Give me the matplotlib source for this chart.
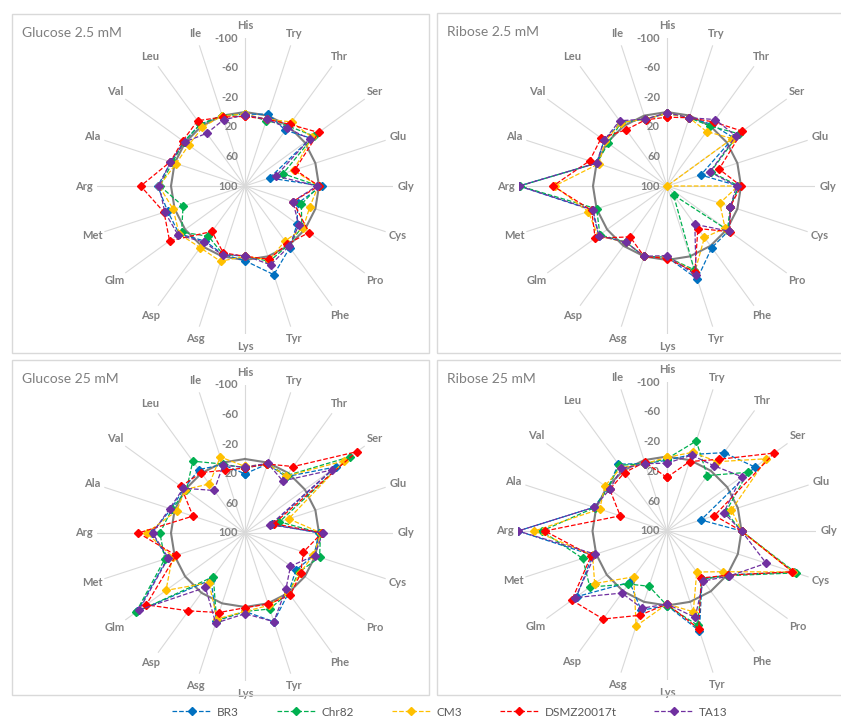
import numpy as np
import matplotlib
matplotlib.use("Agg")
import matplotlib.pyplot as plt
from matplotlib.patches import Rectangle
from matplotlib.lines import Line2D

plt.rcParams['font.family'] = ['Lato', 'DejaVu Sans']

amino = ['His', 'Try', 'Thr', 'Ser', 'Glu', 'Gly', 'Cys', 'Pro', 'Phe', 'Tyr',
         'Lys', 'Asg', 'Asp', 'Glm', 'Met', 'Arg', 'Ala', 'Val', 'Leu', 'Ile']
strains = ['BR3', 'Chr82', 'CM3', 'DSMZ20017t', 'TA13']
colors = ['#0070C0', '#00B050', '#FFC000', '#FF0000', '#7030A0']
r_ticks = [-100, -60, -20, 20, 60, 100]
baseline = [0] * 20

# Glucose 2.5 mM
glc_low_BR3 = [3, -2, 7, -10, 65, -4, 25, 13, -3, -26, -1, 3, 8, -10, -10, -18, -5, -2, -3, 0]
glc_low_Chr82 = [3, 7, 0, -15, 46, 0, 20, 5, 1, -7, 5, 3, 16, -6, 12, -15, -3, -2, -3, 0]
glc_low_CM3 = [3, 5, -7, -12, 31, 1, 8, 3, 8, -5, 5, -7, -3, -10, -2, -16, 2, 6, 2, 0]
glc_low_DSMZ = [6, 5, -3, -23, 29, 0, 32, -7, 3, -4, 5, 5, 24, -26, -15, -41, -6, -4, -9, 2]
glc_low_TA13 = [4, 5, 3, -8, 56, 3, 32, 10, -1, -12, 6, 2, 6, -12, -14, -16, -6, -1, 12, 6]

# Ribose 2.5 mM
rib_low_BR3 = [2, 3, -3, -11, 52, 3, 10, -3, -3, -32, 4, 0, 6, -14, -6, -100, 0, -5, -6, 5]
rib_low_Chr82 = [2, 3, 0, -20, 38, 3, 10, -1, 85, -19, 4, 0, 6, -12, 0, -99, 0, 2, -6, 5]
rib_low_CM3 = [2, 3, 9, -9, 100, 4, 25, 3, 14, -22, 4, 0, 6, -15, -12, -52, 3, -3, -6, 5]
rib_low_DSMZ = [7, 3, -7, -26, 26, 0, 10, -5, 29, -22, 2, 0, 15, -20, -7, -54, -10, -10, 6, 6]
rib_low_TA13 = [1, 3, -11, -15, 39, 6, 10, -4, 36, -27, 6, 0, 6, -14, -5, -100, 0, -5, -9, 5]

# Glucose 25 mM
glc_high_BR3 = [20, 2, 6, -52, 62, 0, 2, 15, 0, -26, -6, -25, 22, -80, -10, -26, -5, -2, -6, 3]
glc_high_Chr82 = [12, 2, 4, -75, 51, -2, -6, 10, 0, -8, -6, -24, 27, -82, -14, -15, -4, 2, -20, 2]
glc_high_CM3 = [10, 2, 5, -66, 38, -3, 3, 8, 0, -3, -6, -22, 17, -32, -3, -33, 3, 0, 18, -8]
glc_high_DSMZ = [12, 2, -11, -87, 59, -4, 17, 7, -4, -1, -1, -13, -30, -65, 2, -44, 26, -7, -1, 11]
glc_high_TA13 = [11, 1, 13, -45, 64, -5, 1, 24, 6, -26, -9, -28, 9, -77, -9, -25, -7, -3, 29, 4]

# Ribose 25 mM
rib_high_BR3 = [5, -8, -30, -46, 52, 0, -79, 0, 20, -41, 0, -12, 15, -50, -5, -100, -3, 2, -11, 5]
rib_high_Chr82 = [3, -27, 8, -34, 17, 0, -82, -2, 20, -33, 0, 22, 12, -28, -19, -68, -2, 2, -9, 5]
rib_high_CM3 = [1, -11, -15, -65, 9, 0, -78, 7, 32, -14, 2, -34, 24, -20, -5, -78, 5, -3, -5, 5]
rib_high_DSMZ = [28, 2, -19, -78, 33, 0, -77, -1, 22, -38, 2, -19, -46, -58, -7, -64, 34, 5, 3, 3]
rib_high_TA13 = [9, -7, -8, -24, 20, 0, -40, -3, 17, -22, 2, -9, -3, -52, -1, -100, -3, 5, -4, 5]

W, H = 841, 720
fig = plt.figure(figsize=(W / 100, H / 100), dpi=100)

panels = [
    ('Glucose 2.5 mM', (12, 14, 429, 353), (245, 186), 148,
     [glc_low_BR3, glc_low_Chr82, glc_low_CM3, glc_low_DSMZ, glc_low_TA13]),
    ('Ribose 2.5 mM', (437, 13, 846, 353), (667, 186), 148,
     [rib_low_BR3, rib_low_Chr82, rib_low_CM3, rib_low_DSMZ, rib_low_TA13]),
    ('Glucose 25 mM', (12, 360, 429, 695), (245, 533), 148,
     [glc_high_BR3, glc_high_Chr82, glc_high_CM3, glc_high_DSMZ, glc_high_TA13]),
    ('Ribose 25 mM', (437, 360, 846, 695), (667, 531), 149,
     [rib_high_BR3, rib_high_Chr82, rib_high_CM3, rib_high_DSMZ, rib_high_TA13]),
]

theta = np.deg2rad(np.arange(len(amino)) * 360 / len(amino))
theta_closed = np.append(theta, theta[0])

for title, (x0, y0, x1, y1), (cx, cy), rad, series in panels:
    fig.add_artist(Rectangle((x0 / W, 1 - y1 / H), (x1 - x0) / W, (y1 - y0) / H,
                             transform=fig.transFigure, fill=False,
                             ec='#D9D9D9', lw=1.0))
    fig.text((x0 + 10) / W, 1 - (y0 + 19) / H, title, ha='left', va='center',
             fontsize=10, color='#7F7F7F')

    ax = fig.add_axes([(cx - rad) / W, 1 - (cy + rad) / H, 2 * rad / W, 2 * rad / H],
                      projection='polar')
    ax.set_theta_zero_location('N')
    ax.set_theta_direction(-1)
    ax.set_rlim(100, -100)
    ax.patch.set_alpha(0)
    ax.spines['polar'].set_visible(False)
    ax.set_xticks(theta)
    ax.set_xticklabels([])
    ax.set_yticks(r_ticks)
    ax.set_yticklabels([])
    ax.yaxis.grid(False)
    ax.xaxis.grid(True, color='#D9D9D9', lw=0.8)
    ax.tick_params(length=0)

    for v in r_ticks:
        ax.annotate(str(v), xy=(0, v), xytext=(-5, 0), textcoords='offset points',
                    ha='right', va='center', fontsize=8, fontweight='bold',
                    color='#808080')
    for t, name in zip(theta, amino):
        ax.text(t, -117, name, ha='center', va='center', fontsize=8,
                fontweight='bold', color='#808080')

    ax.plot(theta_closed, baseline + baseline[:1], color='#7F7F7F', lw=1.5, zorder=2)
    for vals, c in zip(series, colors):
        ax.plot(theta_closed, vals + vals[:1], ls='--', color=c, lw=0.9,
                marker='D', ms=4.5, mec=c, mfc=c, zorder=3)

handles = [Line2D([], [], ls='--', color=c, lw=0.9, marker='D', ms=4.5)
           for c in colors]
fig.legend(handles, strains, loc='center', bbox_to_anchor=(450 / W, 1 - 712 / H),
           ncol=5, frameon=False, fontsize=8.5, handlelength=3.3, handletextpad=0.5,
           columnspacing=3.2, labelcolor='#595959')

fig.savefig('out.png', dpi=100)
